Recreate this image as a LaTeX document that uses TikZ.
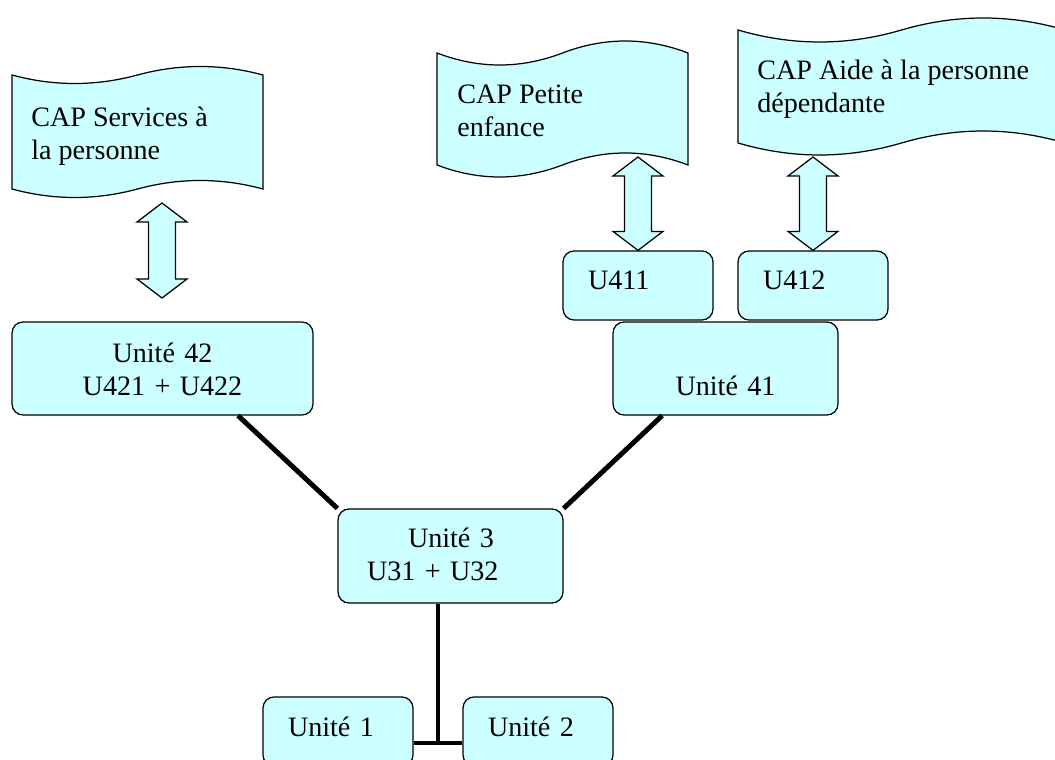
\documentclass[tikz,border=0pt]{standalone}
\usepackage{fontspec}
\setmainfont{Liberation Serif}
\usetikzlibrary{calc}
\definecolor{capcyan}{HTML}{CCFFFF}

% wavy banner: left, right, top, bottom, wave height
\newcommand\capbanner[5]{%
  \pgfmathsetmacro\bnmid{(#1+#2)/2}
  \pgfmathsetmacro\bna{#1+(#2-#1)/6}
  \pgfmathsetmacro\bnb{#1+(#2-#1)/3}
  \pgfmathsetmacro\bnc{#1+2*(#2-#1)/3}
  \pgfmathsetmacro\bnd{#1+5*(#2-#1)/6}
  \pgfmathsetmacro\bntdn{#3+4*#5/3}
  \pgfmathsetmacro\bntup{#3-4*#5/3}
  \pgfmathsetmacro\bnbdn{#4+4*#5/3}
  \pgfmathsetmacro\bnbup{#4-4*#5/3}
  \draw[banner] (#1,#3) .. controls (\bna,\bntdn) and (\bnb,\bntdn) .. (\bnmid,#3)
    .. controls (\bnc,\bntup) and (\bnd,\bntup) .. (#2,#3)
    -- (#2,#4) .. controls (\bnd,\bnbup) and (\bnc,\bnbup) .. (\bnmid,#4)
    .. controls (\bnb,\bnbdn) and (\bna,\bnbdn) .. (#1,#4) -- cycle;}

% block double arrow between two tips
\newcommand\dblarrow[2]{%
  \draw[blockarrow] (#1) -- ++(25,19) -- ++(-11.5,0) -- ($(#2)+(13.5,-19)$) -- ++(11.5,0) -- (#2)
    -- ++(-25,-19) -- ++(11.5,0) -- ($(#1)+(-13.5,19)$) -- ++(-11.5,0) -- cycle;}

\begin{document}
\begin{tikzpicture}[x=0.02cm,y=-0.02cm,font=\fontsize{16}{18.8}\selectfont,
  banner/.style={draw,fill=capcyan,line width=0.7pt},
  bannertext/.style={anchor=base west,align=left,inner sep=0pt},
  blockarrow/.style={draw,fill=capcyan,line width=0.7pt,line join=miter},
  unitbox/.style={draw,fill=capcyan,rounded corners=0.22cm,line width=0.7pt,
    minimum height=1.86cm,inner sep=0pt,align=center,
    text height=0.42cm,text depth=0.68cm},
  smallbox/.style={draw,fill=capcyan,rounded corners=0.22cm,line width=0.7pt,
    minimum height=1.38cm,text width=2cm,inner xsep=0.5cm,inner ysep=0pt,
    align=left,text height=0.4cm,text depth=0.22cm},
  link/.style={line width=2.8pt}]
  \clip (0,0) rectangle (1055,760);

  % the three CAP
  \capbanner{12}{263}{75}{189}{8.5}
  \capbanner{437}{688}{53}{165}{12}
  \capbanner{738}{1065}{30}{143}{12}
  \node[bannertext] (b1) at (31,160) {CAP Services à\\la personne};
  \node[bannertext] (b2) at (457,137) {CAP Petite\\enfance};
  \node[bannertext] (b3) at (757,113) {CAP Aide à la personne\\dépendante};

  % units
  \node[unitbox,text width=6.02cm] (u42) at (162.5,368.5) {Unité 42\\U421 + U422};
  \node[unitbox,text width=4.5cm] (u41) at (725.5,368.5) {\strut\\Unité 41};
  \node[smallbox] (u411) at (638,285.5) {U411};
  \node[smallbox] (u412) at (813,285.5) {U412};
  \node[unitbox,minimum height=1.88cm,text width=3.34cm,inner xsep=0.58cm,align=left,
    text depth=0.752cm] (u3) at (450.5,556) {\hspace*{0.82cm}Unité 3\\U31 + U32};
  \node[smallbox] (u1) at (338,731.5) {Unité 1};
  \node[smallbox] (u2) at (538,731.5) {Unité 2};

  % links
  \coordinate (a1t) at (162,203);
  \coordinate (a1b) at (162,298);
  \coordinate (a2t) at (638,157);
  \coordinate (a3t) at (813,157);
  \dblarrow{a1t}{a1b}
  \dblarrow{a2t}{u411.north}
  \dblarrow{a3t}{u412.north}

  \coordinate (j) at (438,743);
  \draw[link] ($(u42.south west)!0.75!(u42.south east)$) -- (u3.north west);
  \draw[link] ($(u41.south west)!0.22!(u41.south east)$) -- (u3.north east);
  \draw[link] (u3.south -| j) -- (j);
  \draw[link] (u1.east |- j) -- (u2.west |- j);
\end{tikzpicture}
\end{document}
